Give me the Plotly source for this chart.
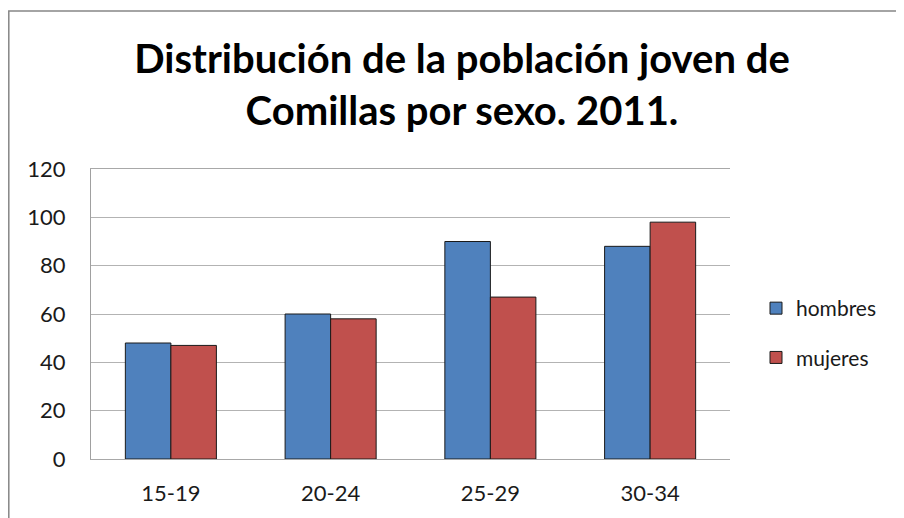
import plotly.graph_objects as go

grupos = ["15-19", "20-24", "25-29", "30-34"]
hombres = [48, 60, 90, 88]
mujeres = [47, 58, 67, 98]

# the page body adds an 8px margin, so the figure is 8px smaller than the window
W, H = 896, 510
L, R, T, B = 83, 174, 161, 59
pw, ph = W - L - R, H - T - B

fig = go.Figure()
fig.add_trace(go.Bar(x=grupos, y=hombres, name="hombres", legendgroup="h",
                     marker=dict(color="#4F81BD", line=dict(color="#1a1a1a", width=1))))
fig.add_trace(go.Bar(x=grupos, y=mujeres, name="mujeres", legendgroup="m",
                     marker=dict(color="#C0504D", line=dict(color="#1a1a1a", width=1))))

fig.update_layout(
    width=W, height=H,
    margin=dict(l=L, r=R, t=T, b=B),
    paper_bgcolor="white", plot_bgcolor="white",
    font=dict(family="Lato", color="#1a1a1a", size=22),
    title=dict(text="Distribución de la población joven de<br>Comillas por sexo. 2011.",
               x=454 / W, xref="container", xanchor="center",
               y=1 - 65 / H, yref="container", yanchor="middle",
               font=dict(family="Lato", size=40, color="black", weight="bold")),
    barmode="group", bargap=0.43, bargroupgap=0,
    showlegend=True,
    legend=dict(x=(748 - L) / pw, xanchor="left", y=(T + ph - 325) / ph, yanchor="middle",
                traceorder="grouped", tracegroupgap=19,
                font=dict(size=21, color="#1a1a1a"), bgcolor="rgba(0,0,0,0)"),
    shapes=[dict(type="rect", xref="paper", yref="paper",
                 x0=(0.8 - L) / pw, x1=(W + 10 - L) / pw,
                 y0=-(B + 10) / ph, y1=(T + ph - 3) / ph,
                 line=dict(color="#868686", width=1.5), layer="below")],
)
fig.update_yaxes(range=[0, 120], dtick=20, showgrid=True, gridcolor="#B3B3B3", gridwidth=1,
                 showline=True, linecolor="#A0A0A0", linewidth=1, ticks="",
                 ticklabelstandoff=20, zeroline=False, fixedrange=True, automargin=False)
fig.update_xaxes(showline=True, mirror=True, linecolor="#A8A8A8", linewidth=1, ticks="",
                 ticklabelstandoff=15, fixedrange=True, automargin=False)

fig.write_html("out.html")
